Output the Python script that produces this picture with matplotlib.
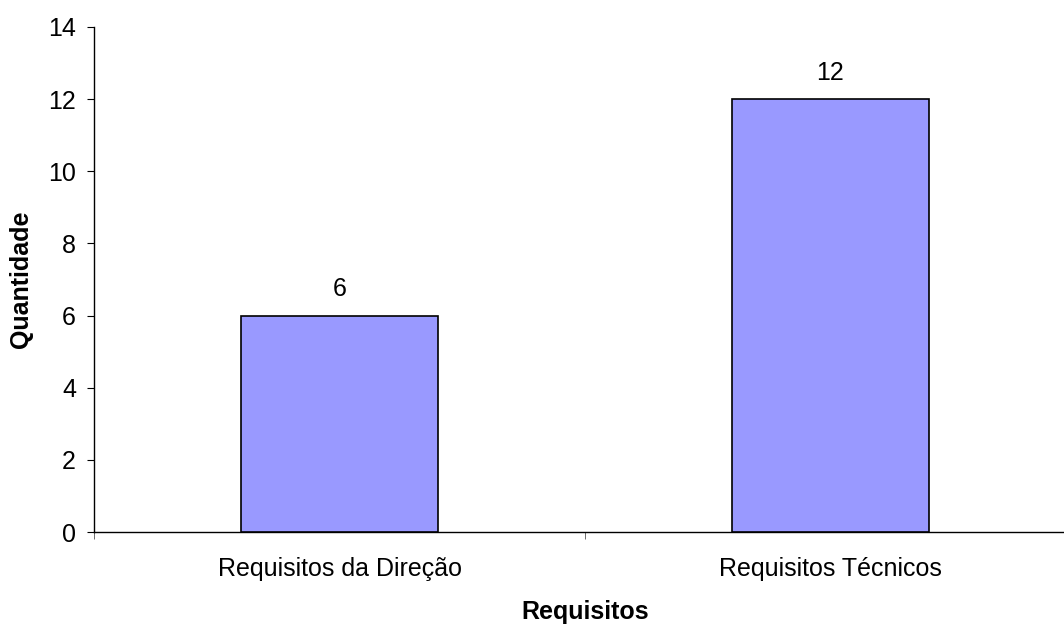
import matplotlib
matplotlib.use("Agg")
import matplotlib.pyplot as plt
from matplotlib.ticker import FixedLocator, NullFormatter

categories = ["Requisitos da Direção", "Requisitos Técnicos"]
values = [6, 12]
yticks = [0, 2, 4, 6, 8, 10, 12, 14]

plt.rcParams['font.family'] = ['Liberation Sans', 'DejaVu Sans']

W, H = 1064, 626
fig = plt.figure(figsize=(W/100, H/100), dpi=100)
left, right, bottom, top = 94, 1076, 532, 27
ax = fig.add_axes([left/W, (H-bottom)/H, (right-left)/W, (bottom-top)/H])

FS = 18
x = list(range(len(categories)))
bars = ax.bar(x, values, width=0.403, color="#9999FF", edgecolor="black", linewidth=1.2, zorder=3)
for xi, v in zip(x, values):
    ax.annotate(str(v), (xi, v), xytext=(0, 10.5), textcoords="offset points",
                ha="center", va="bottom", fontsize=FS)

ax.set_xlim(-0.5, len(categories) - 0.5)
ax.set_ylim(0, 14)
ax.set_yticks(yticks)
ax.set_xticks(x)
ax.set_xticklabels(categories, fontsize=FS)
ax.tick_params(axis='x', which='major', length=0, pad=18)
ax.xaxis.set_minor_locator(FixedLocator([i - 0.5 for i in range(len(categories) + 1)]))
ax.xaxis.set_minor_formatter(NullFormatter())
ax.tick_params(axis='x', which='minor', length=5, direction='out', color='#555555')
ax.tick_params(axis='y', length=5, direction='out', labelsize=FS, pad=8)

for s in ['top', 'right']:
    ax.spines[s].set_visible(False)
ax.spines['left'].set_linewidth(1.0)
ax.spines['bottom'].set_linewidth(1.0)

ax.set_xlabel("Requisitos", fontsize=FS, fontweight='bold', labelpad=14)
ax.set_ylabel("Quantidade", fontsize=FS, fontweight='bold', labelpad=11)

fig.savefig("out.png", dpi=100)
